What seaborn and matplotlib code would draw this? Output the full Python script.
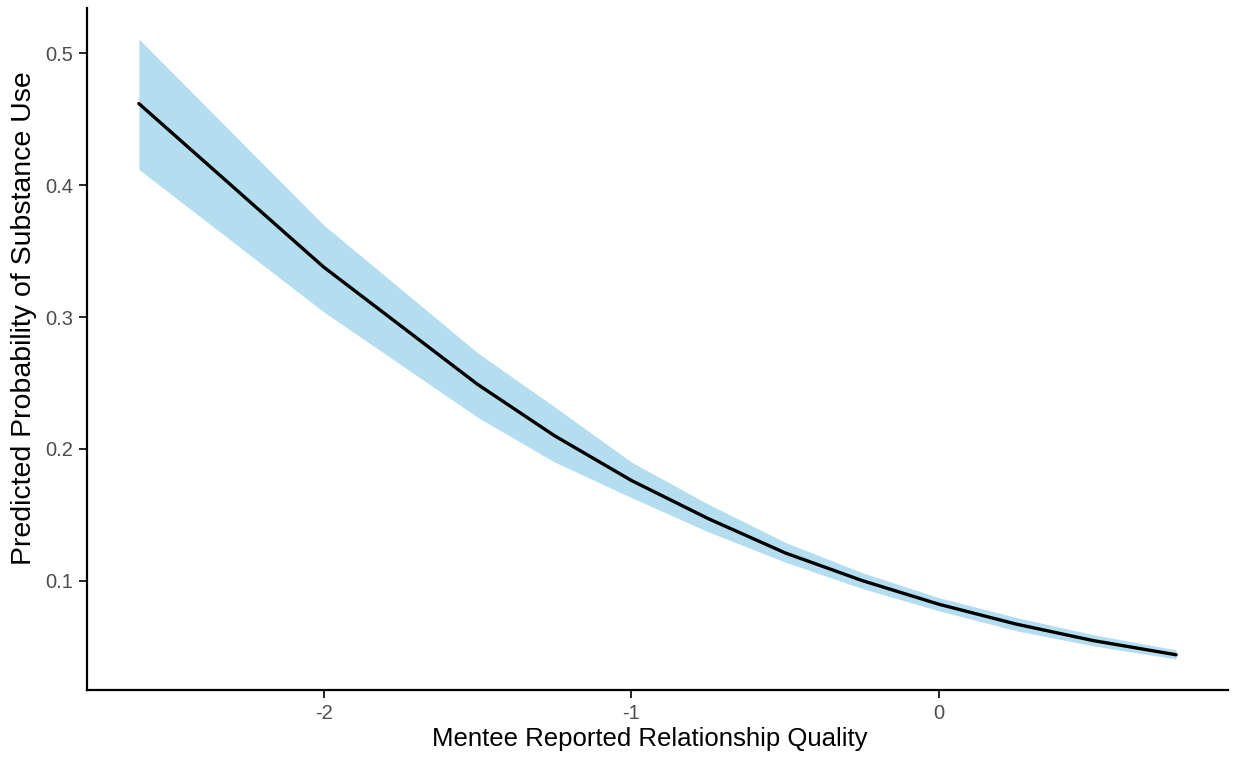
import matplotlib
matplotlib.use("Agg")
import matplotlib.pyplot as plt
import seaborn as sns
import pandas as pd
import numpy as np

# Data
quality = [-2.6, -2.0, -1.5, -1.25, -1.0, -0.75, -0.5, -0.25, 0.0, 0.25, 0.5, 0.77]
predicted = [0.462, 0.338, 0.249, 0.210, 0.176, 0.147, 0.121, 0.100, 0.082, 0.067, 0.0545, 0.0437]
ci_low = [0.412, 0.304, 0.224, 0.190, 0.163, 0.137, 0.114, 0.094, 0.077, 0.062, 0.0505, 0.0405]
ci_high = [0.511, 0.370, 0.273, 0.232, 0.190, 0.158, 0.129, 0.106, 0.087, 0.072, 0.059, 0.0474]

x_ticks = [-2, -1, 0]
y_ticks = [0.1, 0.2, 0.3, 0.4, 0.5]
x_title = "Mentee Reported Relationship Quality"
y_title = "Predicted Probability of Substance Use"

df = pd.DataFrame({"quality": quality, "predicted": predicted,
                   "low": ci_low, "high": ci_high})

sns.set_theme(style="ticks")
plt.rcParams["font.family"] = ["Liberation Sans", "DejaVu Sans"]

fig, ax = plt.subplots(figsize=(12.38, 7.57), dpi=100)
fig.subplots_adjust(left=87/1238, right=1228/1238, bottom=1-690/757, top=1-8/757)

ax.fill_between(df["quality"], df["low"], df["high"], color="#B4DEEF", linewidth=0)
sns.lineplot(data=df, x="quality", y="predicted", ax=ax, color="black", linewidth=2.4)

# ggplot-like 5% expansion
xmin, xmax = df["quality"].min(), df["quality"].max()
ymin, ymax = df["low"].min(), df["high"].max()
xr, yr = xmax - xmin, ymax - ymin
ax.set_xlim(xmin - 0.05*xr, xmax + 0.05*xr)
ax.set_ylim(ymin - 0.05*yr, ymax + 0.05*yr)

ax.set_xticks(x_ticks)
ax.set_xticklabels([str(t) for t in x_ticks])
ax.set_yticks(y_ticks)
ax.set_yticklabels([f"{t:.1f}" for t in y_ticks])

ax.tick_params(axis="both", colors="black", labelcolor="#4D4D4D", labelsize=14.5,
               length=6, width=1.2, pad=4)
for side in ["left", "bottom"]:
    ax.spines[side].set_linewidth(1.6)
    ax.spines[side].set_color("black")
ax.spines["top"].set_visible(False)
ax.spines["right"].set_visible(False)

ax.set_xlabel(x_title, fontsize=18.5, color="black")
ax.set_ylabel(y_title, fontsize=20.5, color="black")
ax.xaxis.set_label_coords(0.493, -0.054)
ax.yaxis.set_label_coords(-0.044, 0.545)

fig.savefig("out.png", dpi=100, facecolor="white")
